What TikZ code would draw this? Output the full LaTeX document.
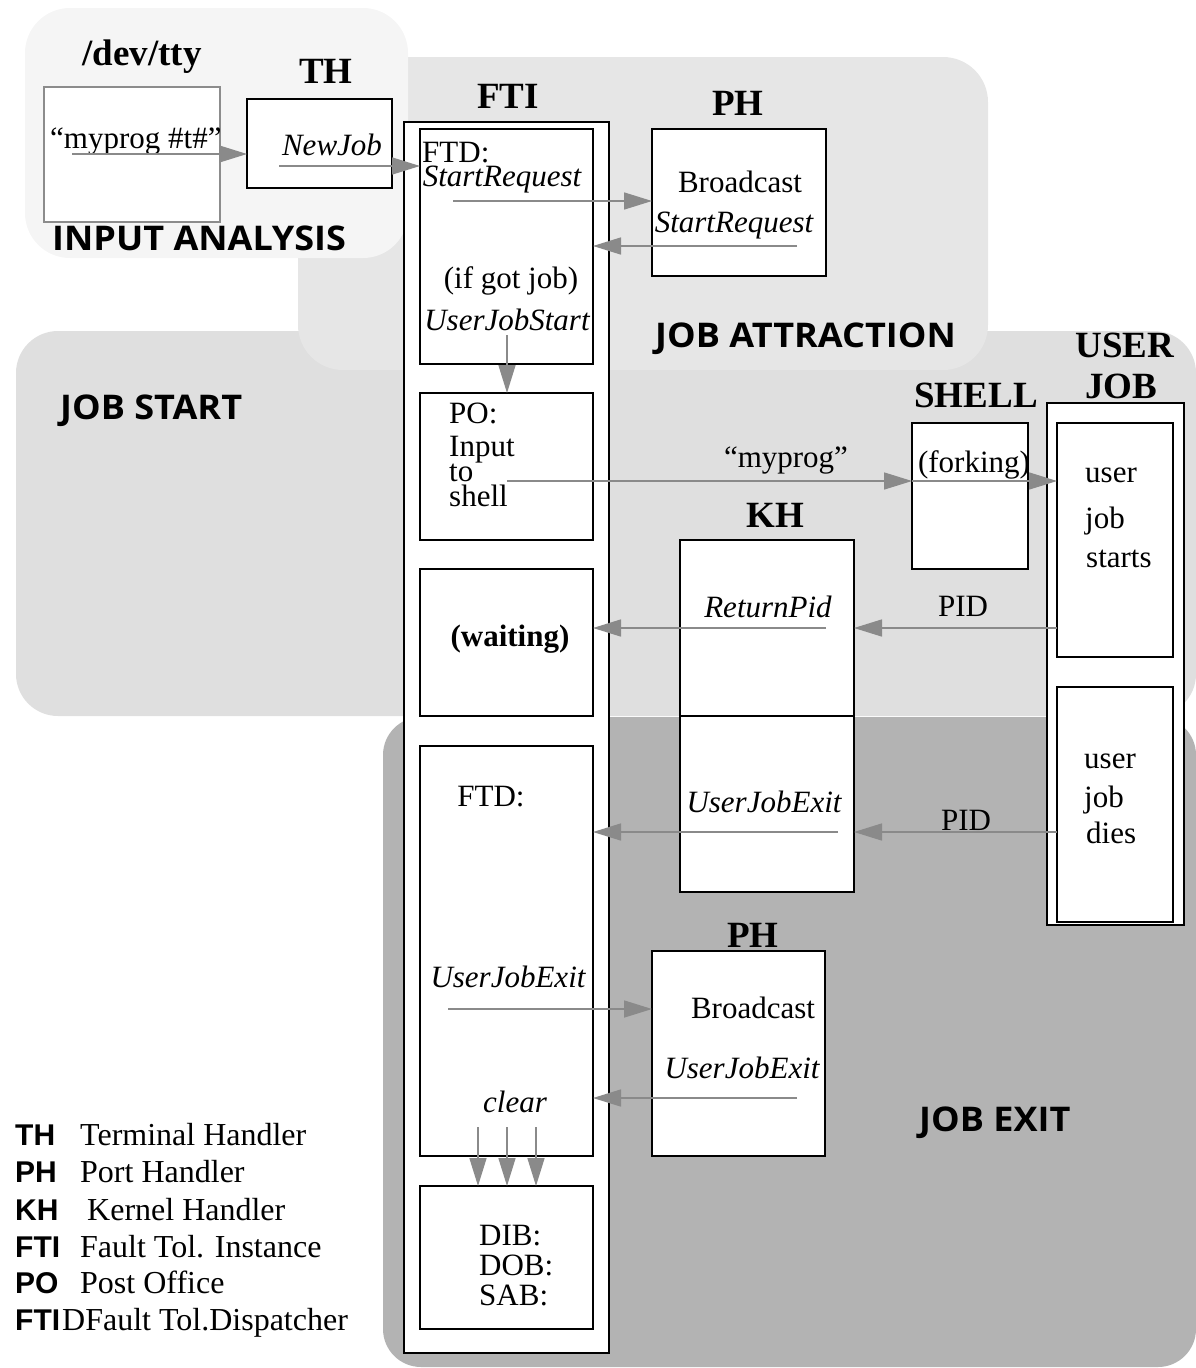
\documentclass[tikz,border=0pt]{standalone}
\usepackage{fontspec}
\setmainfont{Liberation Serif}
\newfontfamily\secfont[FakeStretch=1.06]{Open Sans}
\newfontfamily\legfont{Liberation Sans}
\usetikzlibrary{arrows.meta}
\definecolor{arrgray}{HTML}{8A8A8A}
\definecolor{ttygray}{HTML}{8C8C8C}
\definecolor{iagray}{HTML}{F5F5F5}
\definecolor{jagray}{HTML}{E6E6E6}
\definecolor{jsgray}{HTML}{DFDFDF}
\definecolor{jegray}{HTML}{B3B3B3}
\begin{document}
\begin{tikzpicture}[x=1pt,y=-1pt,
  box/.style={draw=black, fill=white, line width=1.3pt, inner sep=0pt, outer sep=0pt, anchor=north west},
  arr/.style={draw=arrgray, line width=1.6pt, -{Triangle[length=28pt,width=17pt]}},
  txt/.style={font=\fontsize{31}{33}\selectfont, inner sep=0pt, anchor=base},
  txtl/.style={txt, anchor=base west},
  itx/.style={font=\fontsize{31}{33}\selectfont\itshape, inner sep=0pt, anchor=base},
  ttl/.style={font=\fontsize{37}{40}\selectfont\bfseries, inner sep=0pt, anchor=base},
  sec/.style={font=\secfont\fontsize{34}{36}\selectfont\bfseries, inner sep=0pt, anchor=base west},
  lab/.style={font=\legfont\fontsize{30}{32}\selectfont\bfseries, inner sep=0pt, anchor=base west},
  lgd/.style={font=\fontsize{32}{34}\selectfont, inner sep=0pt, anchor=base west}
]
\useasboundingbox (0,0) rectangle (1195,1368);
% regions
\fill[jsgray, rounded corners=42pt] (16,331) rectangle (1196,716);
\fill[jegray, rounded corners=38pt] (383,717) rectangle (1196,1367);
\fill[jagray, rounded corners=45pt] (298,57) rectangle (988,370);
\fill[iagray, rounded corners=45pt] (25,8) rectangle (408,258);
\node[sec] (secia) at (52,250) {INPUT ANALYSIS};
\node[sec] (secja) at (655,347) {JOB ATTRACTION};
\node[sec] (secjs) at (60,419) {JOB START};
\node[sec] (secje) at (919,1131) {JOB EXIT};

% boxes
\node[box, draw=ttygray, minimum width=176pt, minimum height=135pt] (tty) at (44,87) {};
\node[box, minimum width=145pt, minimum height=89pt] (th) at (247,99) {};
\node[box, minimum width=205pt, minimum height=1231pt] (fti) at (404,122) {};
\node[box, minimum width=173pt, minimum height=235pt] (b1) at (420,129) {};
\node[box, minimum width=173pt, minimum height=147pt] (b2) at (420,393) {};
\node[box, minimum width=173pt, minimum height=147pt] (b3) at (420,569) {};
\node[box, minimum width=173pt, minimum height=410pt] (b4) at (420,746) {};
\node[box, minimum width=173pt, minimum height=143pt] (b5) at (420,1186) {};
\node[box, minimum width=174pt, minimum height=147pt] (ph1) at (652,129) {};
\node[box, minimum width=116pt, minimum height=146pt] (shell) at (912,423) {};
\node[box, minimum width=137pt, minimum height=522pt] (uj) at (1047,403) {};
\node[box, minimum width=116pt, minimum height=234pt] (uj1) at (1057,423) {};
\node[box, minimum width=116pt, minimum height=235pt] (uj2) at (1057,687) {};
\node[box, minimum width=174pt, minimum height=176pt] (kh1) at (680,540) {};
\node[box, minimum width=174pt, minimum height=176pt] (kh2) at (680,716) {};
\node[box, minimum width=173pt, minimum height=205pt] (ph2) at (652,951) {};

% titles
\node[ttl] (ttty) at (142,65) {/dev/tty};
\node[ttl] (tth) at (326,83) {TH};
\node[ttl] (tfti) at (508,108) {FTI};
\node[ttl] (tph1) at (738,115) {PH};
\node[ttl] (tshell) at (976,407) {SHELL};
\node[ttl] (tuser) at (1125,357) {USER};
\node[ttl] (tjob) at (1121,398) {JOB};
\node[ttl] (tkh) at (775,527) {KH};
\node[ttl] (tph2) at (753,947) {PH};

% texts
\node[txtl] (myp) at (50,148) {``myprog \#t\#''};
\node[itx] (newjob) at (332,155) {NewJob};
\node[txtl] (ftd1) at (422,162) {FTD:};
\node[itx] (sr1) at (502,186) {StartRequest};
\node[txt] (bc1) at (740,192) {Broadcast};
\node[itx] (sr2) at (734,232) {StartRequest};
\node[txt] (ifgot) at (511,288) {(if got job)};
\node[itx] (ujs) at (507,330) {UserJobStart};
\node[txtl] (po) at (449,423) {PO:};
\node[txtl] (inp) at (449,456) {Input};
\node[txtl] (to) at (449,481) {to};
\node[txtl] (sh) at (449,506) {shell};
\node[txt] (myp2) at (786,467) {``myprog''};
\node[txt] (fork) at (974,472) {(forking)};
\node[txtl] (us1) at (1085,482) {user};
\node[txtl] (jb1) at (1085,528) {job};
\node[txtl] (st1) at (1086,567) {starts};
\node[itx] (rpid) at (768,617) {ReturnPid};
\node[txt] (pid1) at (963,616) {PID};
\node[txt, font=\fontsize{31}{33}\selectfont\bfseries] (wait) at (510,646) {(waiting)};
\node[txt] (ftd2) at (491,806) {FTD:};
\node[itx] (uje1) at (764,812) {UserJobExit};
\node[txt] (pid2) at (966,830) {PID};
\node[txtl] (us2) at (1084,768) {user};
\node[txtl] (jb2) at (1084,807) {job};
\node[txtl] (di2) at (1086,843) {dies};
\node[itx] (uje2) at (508,987) {UserJobExit};
\node[txt] (bc2) at (753,1018) {Broadcast};
\node[itx] (uje3) at (742,1078) {UserJobExit};
\node[itx] (clr) at (515,1112) {clear};
\node[txtl] (dib) at (479,1245) {DIB:};
\node[txtl] (dob) at (479,1275) {DOB:};
\node[txtl] (sab) at (479,1305) {SAB:};

% legend
\node[lab] (l1) at (15,1145) {TH};
\node[lab] (l2) at (15,1182) {PH};
\node[lab] (l3) at (15,1220) {KH};
\node[lab] (l4) at (15,1257) {FTI};
\node[lab] (l5) at (15,1293) {PO};
\node[lab] (l6) at (15,1330) {FTI};
\node[lgd] (d1) at (80,1145) {Terminal Handler};
\node[lgd] (d2) at (80,1182) {Port Handler};
\node[lgd] (d3) at (87,1220) {Kernel Handler};
\node[lgd] (d4) at (80,1257) {Fault Tol. Instance};
\node[lgd] (d5) at (80,1293) {Post Office};
\node[lgd] (d6) at (62,1330) {DFault Tol.Dispatcher};

% connectors
\coordinate (s1) at (72,154);
\draw[arr] (s1) -- (s1 -| th.west);
\coordinate (s2) at (279,166);
\draw[arr] (s2) -- (s2 -| b1.west);
\coordinate (s3) at (453,201);
\draw[arr] (s3) -- (s3 -| ph1.west);
\coordinate (s4) at (797,246);
\draw[arr] (s4) -- (s4 -| b1.east);
\coordinate (s5) at (507,335);
\draw[arr] (s5) -- (s5 |- b2.north);
\coordinate (s6) at (507,481);
\draw[arr] (s6) -- (s6 -| shell.west);
\draw[arr] (s6 -| shell.west) -- (s6 -| uj1.west);
\coordinate (s8) at (826,628);
\draw[arr] (s8) -- (s8 -| b3.east);
\draw[arr] (s8 -| uj1.west) -- (s8 -| kh1.east);
\coordinate (s10) at (838,832);
\draw[arr] (s10) -- (s10 -| b4.east);
\draw[arr] (s10 -| uj2.west) -- (s10 -| kh2.east);
\coordinate (s12) at (448,1009);
\draw[arr] (s12) -- (s12 -| ph2.west);
\coordinate (s13) at (797,1098);
\draw[arr] (s13) -- (s13 -| b4.east);
\coordinate (c1) at (478,1127);
\coordinate (c2) at (507,1127);
\coordinate (c3) at (536,1127);
\draw[arr] (c1) -- (c1 |- b5.north);
\draw[arr] (c2) -- (c2 |- b5.north);
\draw[arr] (c3) -- (c3 |- b5.north);
\end{tikzpicture}
\end{document}
